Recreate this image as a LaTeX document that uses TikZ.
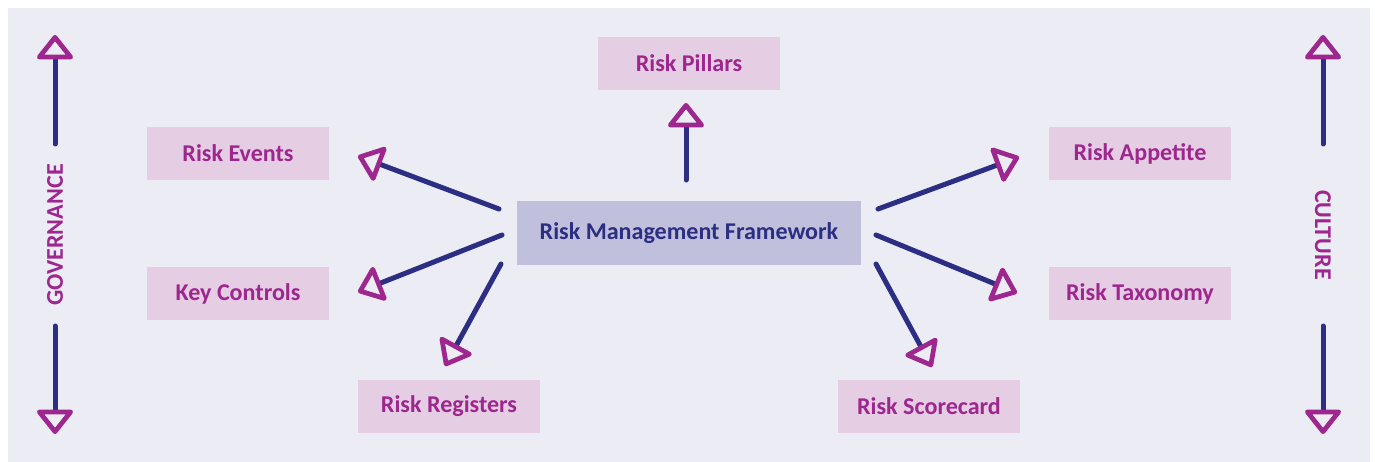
\documentclass[tikz,border=0pt]{standalone}
\usepackage{fontspec}
\setmainfont{Carlito}
\usetikzlibrary{arrows.meta}
\definecolor{bglav}{RGB}{236,236,245}
\definecolor{navy}{RGB}{43,46,131}
\definecolor{plum}{RGB}{158,38,143}
\definecolor{pinkbox}{RGB}{229,205,227}
\definecolor{bluebox}{RGB}{192,192,220}
\begin{document}
\begin{tikzpicture}[x=0.02cm, y=-0.02cm,
  txt/.style={font=\fontsize{13.7}{15}\selectfont\bfseries},
  outer/.style={txt, fill=pinkbox, text=plum, minimum width=3.64cm, minimum height=1.06cm, inner sep=0pt},
  frame/.style={txt, fill=bluebox, text=navy, minimum width=6.88cm, minimum height=1.28cm, inner sep=0pt},
  side/.style={txt, text=plum, inner sep=0pt},
  link/.style={draw=navy, line width=0.1cm, line cap=round,
    -{Triangle[open, color=plum, length=0.52cm, width=0.8cm, line width=0.095cm, round]}}]
  \fill [white] (0,0) rectangle (1375,462);
  \fill [bglav] (8,8) rectangle (1370,462);
  \useasboundingbox (0,0) rectangle (1375,462);
  % boxes
  \node [frame] (rmf) at (689,233) {Risk Management Framework};
  \node [outer] (pillars) at (689,63.5) {Risk Pillars};
  \node [outer] (events) at (238,153.5) {Risk Events};
  \node [outer] (controls) at (238,293.5) {Key Controls};
  \node [outer] (registers) at (449,406.5) {Risk Registers};
  \node [outer] (appetite) at (1140,153.5) {Risk Appetite};
  \node [outer] (taxonomy) at (1140,293.5) {Risk Taxonomy};
  \node [outer] (scorecard) at (929,406.5) {Risk Scorecard};
  \node [side, rotate=90] (gov) at (55,235) {GOVERNANCE};
  \node [side, rotate=-90] (cult) at (1323,235) {CULTURE};
  % arrow ends
  \coordinate (pil-a) at (686,180);  \coordinate (pil-b) at (686,103);
  \coordinate (ev-a) at (499,209);   \coordinate (ev-b) at (358,156);
  \coordinate (kc-a) at (502,235);   \coordinate (kc-b) at (358,292);
  \coordinate (reg-a) at (501,264);  \coordinate (reg-b) at (445,366);
  \coordinate (app-a) at (878,209);  \coordinate (app-b) at (1019,157);
  \coordinate (tax-a) at (876,235);  \coordinate (tax-b) at (1017,293);
  \coordinate (sc-a) at (876,264);   \coordinate (sc-b) at (932,367);
  \coordinate (gov-up) at (55,144);  \coordinate (gov-top) at (55,35);
  \coordinate (gov-dn) at (55,326);  \coordinate (gov-bot) at (55,434);
  \coordinate (cul-up) at (1323,144); \coordinate (cul-top) at (1323,35);
  \coordinate (cul-dn) at (1323,326); \coordinate (cul-bot) at (1323,434);
  % arrows
  \draw [link] (pil-a) -- (pil-b);
  \draw [link] (ev-a) -- (ev-b);
  \draw [link] (kc-a) -- (kc-b);
  \draw [link] (reg-a) -- (reg-b);
  \draw [link] (app-a) -- (app-b);
  \draw [link] (tax-a) -- (tax-b);
  \draw [link] (sc-a) -- (sc-b);
  \draw [link] (gov-up) -- (gov-top);
  \draw [link] (gov-dn) -- (gov-bot);
  \draw [link] (cul-up) -- (cul-top);
  \draw [link] (cul-dn) -- (cul-bot);
\end{tikzpicture}
\end{document}
